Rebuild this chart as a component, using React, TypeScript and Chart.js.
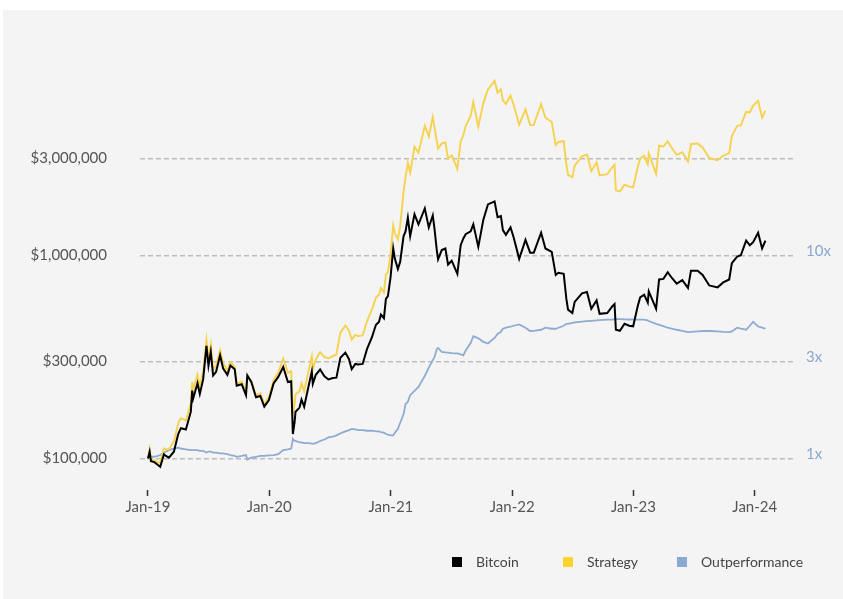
import React, { useEffect, useRef } from "react";
import { Chart, registerables } from "chart.js";

Chart.register(...registerables);

const FONT = "Lato, 'Noto Sans', sans-serif";

const SERIES_NAMES = ["Bitcoin", "Strategy", "Outperformance"];
const LINE_COLORS = ["#000000", "#f6d24f", "#8eabd2"];
const LEGEND_COLORS = ["#000000", "#fcd32f", "#8aa9d3"];

const X_TICK_DATES = ["2019-01-01", "2020-01-01", "2021-01-01", "2022-01-01", "2023-01-01", "2024-01-01"];
const X_TICK_LABELS = ["Jan-19", "Jan-20", "Jan-21", "Jan-22", "Jan-23", "Jan-24"];
const LEFT_TICKS = [100000, 300000, 1000000, 3000000];
const RIGHT_TICKS = [1, 3, 10];

const DATES = [
  "2019-01-01","2019-01-06","2019-01-10","2019-01-20","2019-01-31","2019-02-07","2019-02-18","2019-02-24","2019-03-05","2019-03-20",
  "2019-04-02","2019-04-10","2019-04-25","2019-05-10","2019-05-14","2019-05-17","2019-05-30","2019-06-06","2019-06-16","2019-06-26",
  "2019-07-02","2019-07-09","2019-07-16","2019-07-25","2019-08-06","2019-08-15","2019-08-28","2019-09-06","2019-09-19","2019-09-25",
  "2019-10-10","2019-10-23","2019-10-27","2019-11-08","2019-11-22","2019-12-05","2019-12-17","2019-12-31",
  "2020-01-14","2020-01-28","2020-02-12","2020-02-26","2020-03-07","2020-03-12","2020-03-17","2020-03-20","2020-04-01","2020-04-07",
  "2020-04-15","2020-04-30","2020-05-08","2020-05-11","2020-05-20","2020-06-02","2020-06-15","2020-06-27","2020-07-10","2020-07-21",
  "2020-08-02","2020-08-17","2020-08-28","2020-09-05","2020-09-16","2020-09-24","2020-10-08","2020-10-21","2020-11-05","2020-11-17",
  "2020-11-26","2020-12-02","2020-12-11","2020-12-17","2020-12-23","2020-12-31",
  "2021-01-08","2021-01-13","2021-01-22","2021-01-29","2021-02-08","2021-02-14","2021-02-21","2021-02-28","2021-03-13","2021-03-25",
  "2021-04-13","2021-04-25","2021-05-07","2021-05-12","2021-05-19","2021-05-23","2021-06-03","2021-06-14","2021-06-22","2021-07-03",
  "2021-07-20","2021-07-30","2021-08-07","2021-08-14","2021-08-29","2021-09-06","2021-09-21","2021-10-06","2021-10-20","2021-11-09",
  "2021-11-18","2021-11-28","2021-12-04","2021-12-13","2021-12-27",
  "2022-01-05","2022-01-22","2022-02-10","2022-02-24","2022-03-07","2022-03-29","2022-04-11","2022-04-30","2022-05-12","2022-05-20",
  "2022-06-05","2022-06-13","2022-06-18","2022-07-01","2022-07-08","2022-07-30","2022-08-14","2022-08-27","2022-09-12","2022-09-21",
  "2022-10-14","2022-10-29","2022-11-05","2022-11-09","2022-11-21","2022-12-05","2022-12-19","2022-12-31",
  "2023-01-14","2023-01-21","2023-02-02","2023-02-13","2023-02-16","2023-03-10","2023-03-19","2023-04-01","2023-04-14","2023-04-26",
  "2023-05-11","2023-05-28","2023-06-14","2023-06-23","2023-07-13","2023-07-28","2023-08-17","2023-09-11","2023-09-28","2023-10-16",
  "2023-10-24","2023-11-09","2023-11-20","2023-12-06","2023-12-17","2023-12-27",
  "2024-01-11","2024-01-23","2024-02-02"
];

const BITCOIN = [
  100000,108000,97000,96000,93000,91000,105000,103000,101000,108000,
  132000,141000,139000,170000,216000,197000,235000,208000,245000,358000,
  286000,335000,256000,267000,322000,278000,258000,287000,275000,228000,
  232000,205000,256000,238000,200000,203000,180000,194000,
  234000,252000,282000,238000,240000,132000,150000,170000,178000,195000,
  180000,234000,268000,233000,258000,274000,254000,245000,249000,250000,
  313000,332000,308000,275000,292000,290000,292000,345000,395000,455000,
  470000,510000,490000,610000,630000,780000,
  1080000,960000,855000,930000,1240000,1310000,1530000,1240000,1590000,1420000,
  1700000,1370000,1570000,1360000,1060000,955000,1060000,1080000,900000,940000,
  810000,1120000,1210000,1270000,1310000,1420000,1100000,1490000,1780000,1840000,
  1540000,1560000,1330000,1260000,1370000,
  1230000,960000,1190000,1030000,1030000,1290000,1080000,1040000,800000,820000,
  810000,610000,540000,520000,590000,650000,660000,545000,600000,515000,
  520000,560000,575000,430000,425000,460000,450000,447000,
  565000,620000,640000,585000,665000,545000,760000,765000,825000,775000,
  725000,755000,690000,840000,840000,800000,710000,695000,735000,760000,
  915000,985000,1000000,1180000,1120000,1160000,
  1290000,1080000,1180000
];

const STRATEGY = [
  100000,111000,99000,98000,96000,95000,112000,111000,111000,121000,
  149000,158000,154000,187000,238000,217000,259000,227000,267000,383000,
  309000,362000,274000,286000,341000,295000,271000,298000,283000,233000,
  239000,213000,253000,240000,204000,209000,185000,201000,
  243000,265000,310000,264000,269000,165000,183000,207000,214000,234000,
  214000,278000,318000,275000,307000,334000,315000,311000,319000,325000,
  416000,452000,425000,385000,406000,400000,403000,473000,541000,619000,
  639000,689000,657000,805000,825000,1014000,
  1404000,1286000,1197000,1395000,2046000,2424000,2850000,2542000,3419000,3195000,
  4335000,3836000,4789000,4284000,3657000,3343000,3551000,3596000,2988000,3102000,
  2665000,3640000,3896000,4318000,4847000,5680000,4290000,5588000,6550000,7213000,
  6314000,6552000,5786000,5544000,6097000,
  5535000,4387000,5236000,4367000,4378000,5547000,4752000,4524000,3480000,3608000,
  3645000,2806000,2484000,2418000,2761000,3068000,3128000,2594000,2868000,2472000,
  2506000,2705000,2783000,2086000,2061000,2226000,2174000,2155000,
  2723000,2988000,3085000,2796000,3159000,2507000,3458000,3427000,3630000,3379000,
  3118000,3209000,2891000,3528000,3545000,3392000,3010000,2933000,3087000,3184000,
  3861000,4334000,4350000,5074000,5040000,5452000,
  5753000,4752000,5133000
];

const OUTPERFORMANCE = [
  1.00,1.03,1.02,1.02,1.03,1.04,1.07,1.08,1.10,1.12,
  1.13,1.12,1.11,1.10,1.10,1.10,1.10,1.09,1.09,1.07,
  1.08,1.08,1.07,1.07,1.06,1.06,1.05,1.04,1.03,1.02,
  1.03,1.04,0.99,1.01,1.02,1.03,1.03,1.035,
  1.04,1.05,1.10,1.11,1.12,1.25,1.22,1.22,1.20,1.20,
  1.19,1.19,1.185,1.18,1.19,1.22,1.24,1.27,1.28,1.30,
  1.33,1.36,1.38,1.40,1.39,1.38,1.38,1.37,1.37,1.36,
  1.36,1.35,1.34,1.32,1.31,1.30,
  1.30,1.34,1.40,1.50,1.65,1.85,1.90,2.05,2.15,2.25,
  2.55,2.80,3.05,3.15,3.45,3.50,3.35,3.33,3.32,3.30,
  3.29,3.25,3.22,3.40,3.70,4.00,3.90,3.75,3.68,3.92,
  4.10,4.20,4.35,4.40,4.45,
  4.50,4.57,4.40,4.24,4.25,4.30,4.40,4.35,4.35,4.40,
  4.50,4.60,4.60,4.65,4.68,4.72,4.74,4.76,4.78,4.80,
  4.82,4.83,4.84,4.85,4.85,4.84,4.83,4.82,
  4.82,4.82,4.82,4.78,4.75,4.60,4.55,4.48,4.40,4.36,
  4.30,4.25,4.19,4.20,4.22,4.24,4.24,4.22,4.20,4.19,
  4.22,4.40,4.35,4.30,4.50,4.70,
  4.46,4.40,4.35
];

const dayIndex = (d: string) =>
  Math.round(
    (Date.UTC(+d.slice(0, 4), +d.slice(5, 7) - 1, +d.slice(8, 10)) - Date.UTC(2019, 0, 1)) / 86400000
  );

const withCommas = (v: number) => String(Math.round(v)).replace(/\B(?=(\d{3})+(?!\d))/g, ",");

const legendPlugin = {
  id: "customLegend",
  afterDraw(chart: any) {
    const ctx = chart.ctx;
    const xs = [449, 560, 674];
    ctx.save();
    ctx.font = `14px ${FONT}`;
    ctx.textBaseline = "middle";
    ctx.textAlign = "left";
    SERIES_NAMES.forEach((name, i) => {
      ctx.fillStyle = LEGEND_COLORS[i];
      ctx.fillRect(xs[i], 547, 10, 10);
      ctx.fillStyle = "#444444";
      ctx.fillText(name, xs[i] + 24, 552.5);
    });
    ctx.restore();
  },
};

export default function App() {
  const ref = useRef<HTMLCanvasElement | null>(null);

  useEffect(() => {
    if (!ref.current) return;
    const series = [BITCOIN, STRATEGY, OUTPERFORMANCE];
    const widths = [2, 1.9, 1.8];
    const chart = new Chart(ref.current, {
      type: "line",
      data: {
        datasets: SERIES_NAMES.map((name, i) => ({
          label: name,
          data: DATES.map((d, j) => ({ x: dayIndex(d), y: series[i][j] })),
          borderColor: LINE_COLORS[i],
          backgroundColor: LINE_COLORS[i],
          borderWidth: widths[i],
          pointRadius: 0,
          tension: 0,
          fill: false,
          yAxisID: i === 2 ? "y2" : "y",
        })),
      },
      options: {
        animation: false,
        responsive: true,
        maintainAspectRatio: false,
        layout: { padding: { top: 41.7, left: 0, right: 0, bottom: 0 } },
        plugins: { legend: { display: false }, tooltip: { enabled: false } },
        scales: {
          x: {
            type: "linear",
            min: -24,
            max: 1947,
            afterBuildTicks: (s: any) => {
              s.ticks = X_TICK_DATES.map((d) => ({ value: dayIndex(d) }));
            },
            afterFit: (s: any) => {
              s.height = 109;
            },
            ticks: {
              callback: (_v: any, i: number) => X_TICK_LABELS[i],
              color: "#555555",
              font: { family: FONT, size: 15 },
              padding: 2,
              maxRotation: 0,
              autoSkip: false,
            },
            grid: {
              drawOnChartArea: false,
              drawTicks: true,
              tickLength: 6,
              tickColor: "#333333",
              tickWidth: 1.5,
            },
            border: { display: false },
          },
          y: {
            type: "logarithmic",
            position: "left",
            min: 70000,
            max: 10000000,
            afterBuildTicks: (s: any) => {
              s.ticks = LEFT_TICKS.map((v) => ({ value: v }));
            },
            afterFit: (s: any) => {
              s.width = 137;
            },
            ticks: {
              callback: (v: any) => "$" + withCommas(Number(v)),
              color: "#555555",
              font: { family: FONT, size: 15 },
              padding: 33,
              autoSkip: false,
            },
            grid: { color: "#bdbdbd", lineWidth: 1.5, drawTicks: false },
            border: { display: false, dash: [5, 3] },
          },
          y2: {
            type: "logarithmic",
            position: "right",
            min: 0.7,
            max: 100,
            afterBuildTicks: (s: any) => {
              s.ticks = RIGHT_TICKS.map((v) => ({ value: v }));
            },
            afterFit: (s: any) => {
              s.width = 48;
            },
            ticks: {
              callback: (v: any) => `${v}x`,
              color: "#8ba7cf",
              font: { family: FONT, size: 15 },
              padding: 11,
              labelOffset: -4,
              autoSkip: false,
            },
            grid: { drawOnChartArea: false, drawTicks: false },
            border: { display: false },
          },
        },
      } as any,
      plugins: [legendPlugin],
    });
    return () => chart.destroy();
  }, []);

  return (
    <div style={{ position: "absolute", left: 0, top: 0, width: 843, height: 599, background: "#ffffff" }}>
      <div style={{ position: "absolute", left: 3, top: 10, width: 840, height: 589, background: "#f4f4f4" }}>
        <canvas ref={ref} style={{ display: "block" }} />
      </div>
    </div>
  );
}
